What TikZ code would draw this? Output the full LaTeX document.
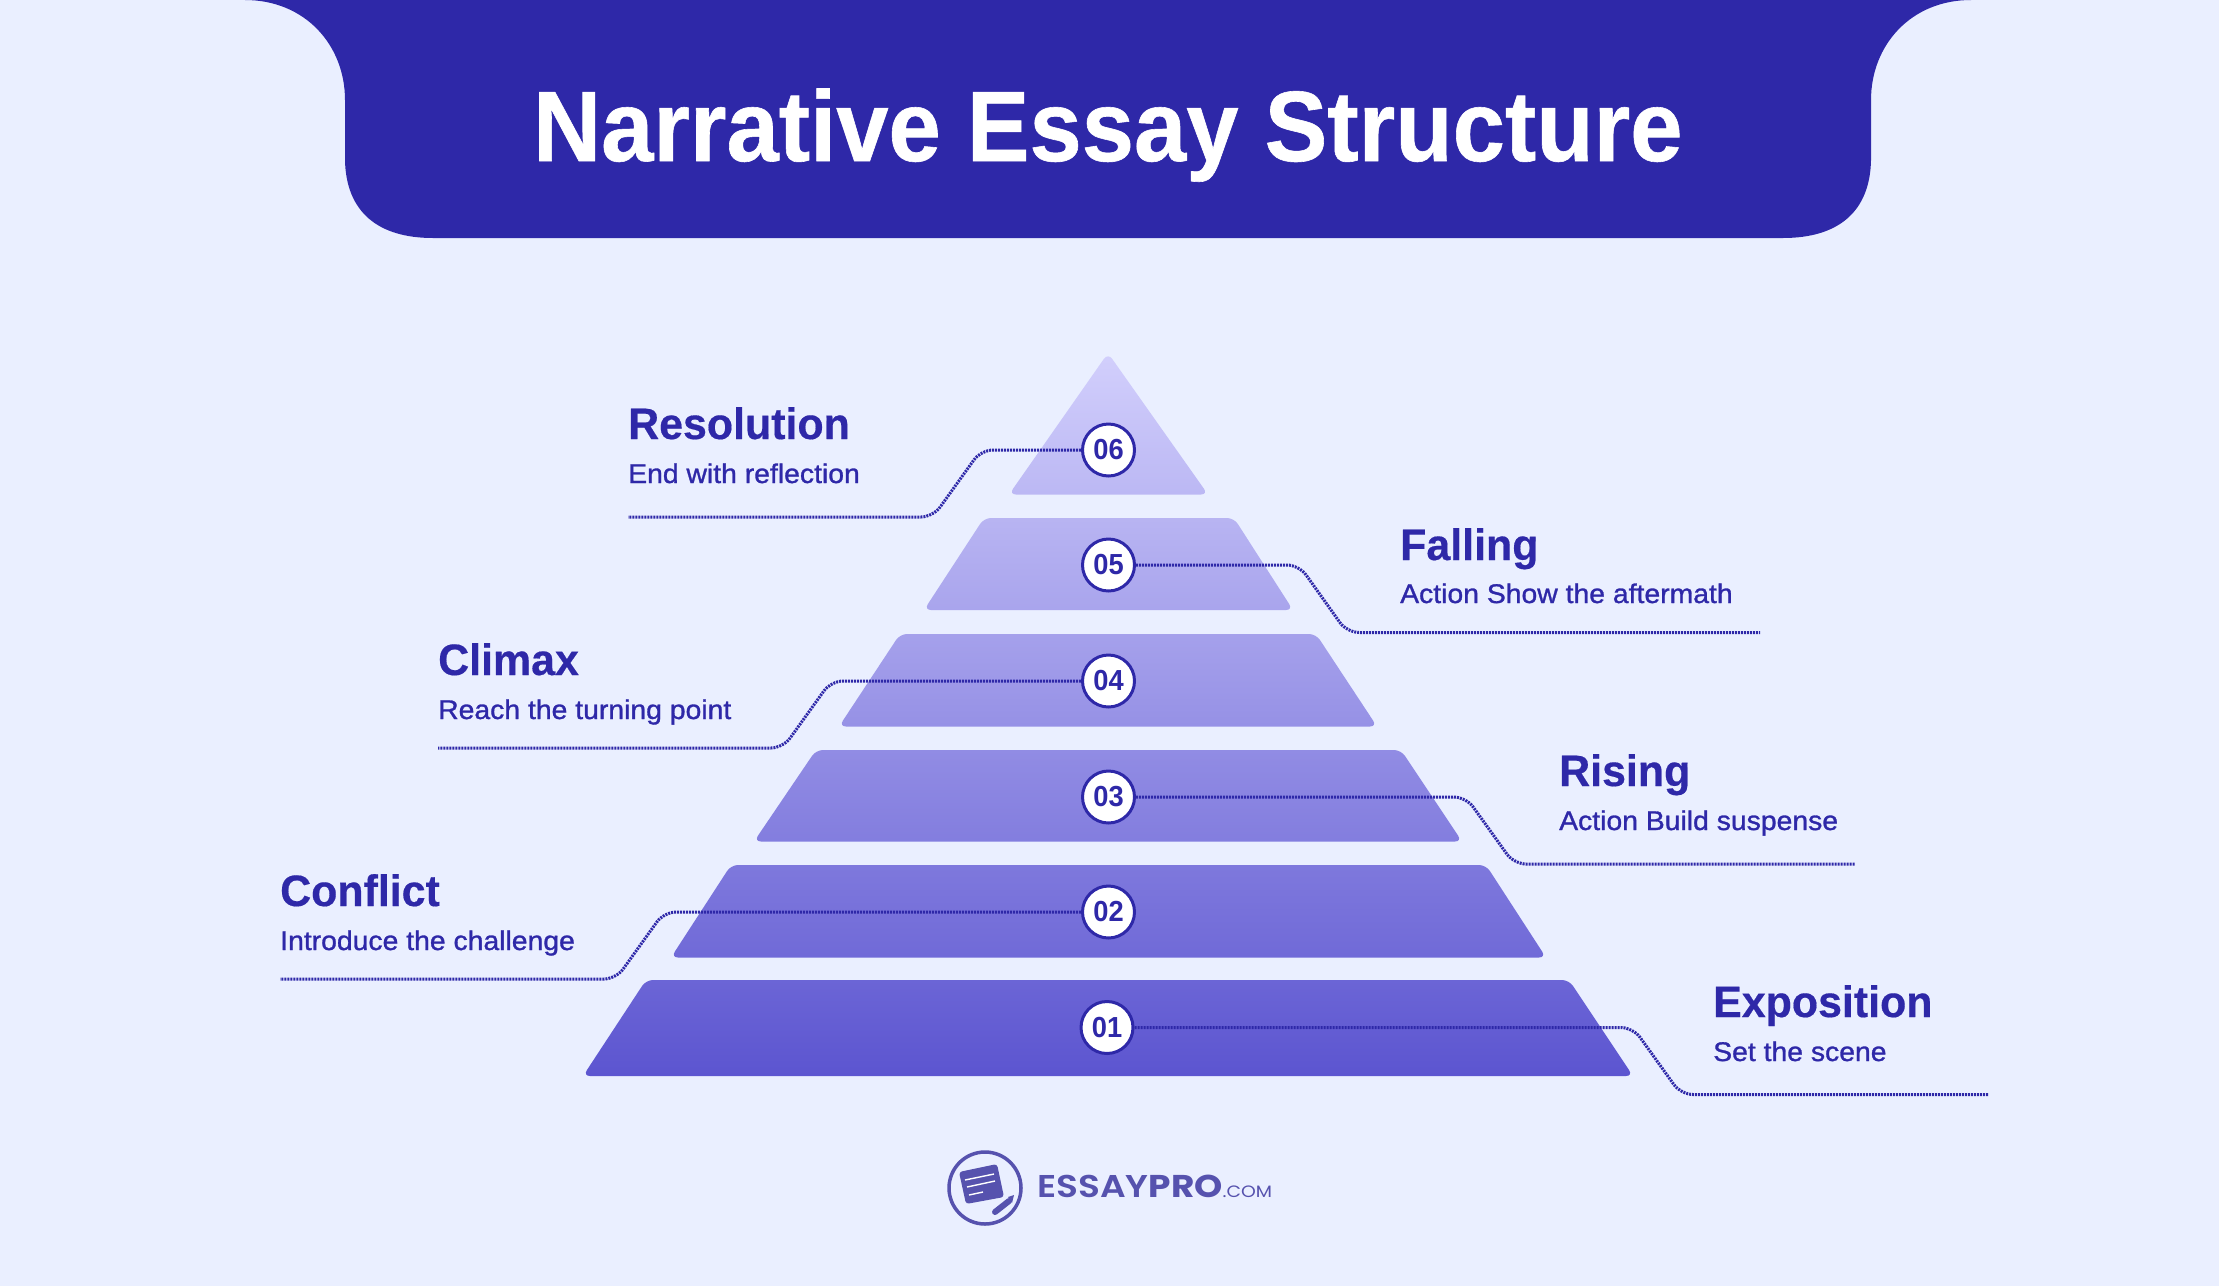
\documentclass[tikz,border=0pt]{standalone}
\usepackage{fontspec}
\setmainfont{Liberation Sans}
\newfontfamily\headf[FakeStretch=0.94,BoldFeatures={FakeBold=0.6}]{Liberation Sans}
\newfontfamily\ttlf[FakeStretch=0.975,BoldFeatures={FakeBold=0.4}]{Liberation Sans}
\newfontfamily\numf[FakeStretch=0.94]{Liberation Sans}
\newfontfamily\subf[FakeBold=1.1,FakeStretch=1.05]{Liberation Sans}
\newfontfamily\logof[FakeStretch=1.14]{Poppins}
\newfontfamily\logomd[FakeStretch=1.14]{Poppins SemiBold}
\definecolor{bgc}{HTML}{EAEFFF}
\definecolor{navy}{HTML}{2E28A8}
\definecolor{tierA}{HTML}{D2CFFC}
\definecolor{tierB}{HTML}{5C55D0}
\definecolor{logoc}{HTML}{5652AE}
\tikzset{
  tier/.style 2 args={rounded corners=7pt, top color=tierB!#1!tierA, bottom color=tierB!#2!tierA, draw=none},
  num/.style={circle, draw=navy, line width=3pt, fill=white, minimum size=52pt, inner sep=0pt, text=navy, font=\fontsize{29}{29}\selectfont\numf\bfseries},
  conn/.style={draw=navy, line width=3pt, dash pattern=on 2pt off 1pt, rounded corners=12pt},
  ttl/.style={anchor=base west, inner sep=0pt, text=navy, font=\fontsize{44}{44}\selectfont\ttlf\bfseries},
  sbt/.style={anchor=base west, inner sep=0pt, text=navy, font=\fontsize{27}{27}\selectfont\subf},
}
\begin{document}
\begin{tikzpicture}[x=1pt,y=-1pt]
\useasboundingbox (0,0) rectangle (2219,1286);
\fill[bgc] (0,0) rectangle (2219,1286);
% header
\fill[navy] (245,0) .. controls (305,0) and (345,45) .. (345,100) -- (345,160)
  .. controls (346,212) and (378,238) .. (433,238) -- (1783,238)
  .. controls (1838,238) and (1870,212) .. (1871,160) -- (1871,100)
  .. controls (1871,45) and (1911,0) .. (1971,0) -- cycle;
\node[anchor=base, inner sep=0pt, text=white, font=\fontsize{100}{100}\selectfont\headf\bfseries] (title) at (1108,161) {Narrative Essay Structure};
% tiers
\path[tier={0}{19}] (1108,353) -- (1208,494.5) -- (1009,494.5) -- cycle;
\path[tier={22}{35}] (984,518) -- (1234,518) -- (1293,610) -- (924,610) -- cycle;
\path[tier={38}{51}] (900,634) -- (1316,634) -- (1377,726.5) -- (839,726.5) -- cycle;
\path[tier={55}{67}] (816,750) -- (1401,750) -- (1462,841.5) -- (754,841.5) -- cycle;
\path[tier={71}{83}] (731,865) -- (1486,865) -- (1546,957.5) -- (671,957.5) -- cycle;
\path[tier={87}{100}] (646,980) -- (1569,980) -- (1633,1076) -- (583,1076) -- cycle;
% number nodes
\node[num] (n6) at (1108.5,450) {06};
\node[num] (n5) at (1108.5,565) {05};
\node[num] (n4) at (1108.5,681) {04};
\node[num] (n3) at (1108.5,797) {03};
\node[num] (n2) at (1108.5,912) {02};
\node[num] (n1) at (1107,1027.5) {01};
% connectors
\coordinate (a6) at (981,450); \coordinate (b6) at (933,517); \coordinate (e6) at (628,517);
\coordinate (a5) at (1299,565); \coordinate (b5) at (1347,632.5); \coordinate (e5) at (1760,632.5);
\coordinate (a4) at (831,681); \coordinate (b4) at (783,748); \coordinate (e4) at (438,748);
\coordinate (a3) at (1466,797); \coordinate (b3) at (1514,864); \coordinate (e3) at (1855,864);
\coordinate (a2) at (664,912); \coordinate (b2) at (616,979); \coordinate (e2) at (280,979);
\coordinate (a1) at (1633,1027.5); \coordinate (b1) at (1681,1094.5); \coordinate (e1) at (1988,1094.5);
\draw[conn] (n6.west) -- (a6) -- (b6) -- (e6);
\draw[conn] (n5.east) -- (a5) -- (b5) -- (e5);
\draw[conn] (n4.west) -- (a4) -- (b4) -- (e4);
\draw[conn] (n3.east) -- (a3) -- (b3) -- (e3);
\draw[conn] (n2.west) -- (a2) -- (b2) -- (e2);
\draw[conn] (n1.east) -- (a1) -- (b1) -- (e1);
% labels
\node[ttl] (t6) at (628,439) {Resolution};
\node[sbt] (s6) at (628,483) {End with reflection};
\node[ttl] (t5) at (1400,560) {Falling};
\node[sbt] (s5) at (1400,603) {Action Show the aftermath};
\node[ttl] (t4) at (438,675) {Climax};
\node[sbt] (s4) at (438,719) {Reach the turning point};
\node[ttl] (t3) at (1559,786) {Rising};
\node[sbt] (s3) at (1559,830) {Action Build suspense};
\node[ttl] (t2) at (280,906) {Conflict};
\node[sbt] (s2) at (280,950) {Introduce the challenge};
\node[ttl] (t1) at (1713,1017) {Exposition};
\node[sbt] (s1) at (1713,1061) {Set the scene};
% logo
\node[circle, draw=logoc, line width=3.5pt, minimum size=72pt, inner sep=0pt] (logo) at (985,1188) {};
\fill[logoc, rounded corners=3pt] (959,1172) -- (997,1164) -- (1004,1197) -- (966,1204) -- cycle;
\draw[white, line width=1.4pt] (965,1180) -- (994,1174) (967,1187) -- (995,1181) (969,1195) -- (983,1192);
\draw[logoc, line width=6pt, line cap=round] (995,1212) -- (1009,1201);
\fill[logoc] (1008,1197) -- (1014,1195) -- (1012,1203) -- cycle;
\node[anchor=base west, inner sep=0pt, text=logoc, font=\fontsize{31.5}{31.5}\selectfont] (brand) at (1037,1197) {{\logomd ESSAY}{\logof\bfseries PRO}{\fontsize{16.5}{16.5}\selectfont\logof .COM}};
\end{tikzpicture}
\end{document}
